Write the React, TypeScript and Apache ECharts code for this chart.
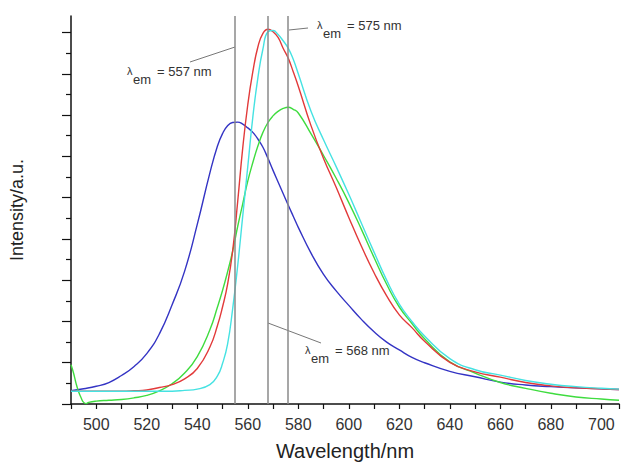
import React, { useEffect, useRef } from "react";
import * as echarts from "echarts";

const wavelengths = [490, 495, 500, 505, 510, 515, 520, 525, 530, 535, 540, 545, 548, 550, 552, 554, 556, 558, 560, 562, 564, 566, 568, 570, 572, 574, 576, 578, 580, 585, 590, 595, 600, 605, 610, 615, 620, 625, 630, 640, 650, 660, 670, 680, 690, 700, 707];

const blueValues = [0.32, 0.37, 0.43, 0.52, 0.69, 0.91, 1.22, 1.7, 2.4, 3.22, 4.35, 5.6, 6.25, 6.55, 6.74, 6.82, 6.83, 6.78, 6.69, 6.58, 6.42, 6.22, 5.95, 5.66, 5.38, 5.1, 4.82, 4.55, 4.28, 3.66, 3.14, 2.74, 2.39, 2.05, 1.75, 1.5, 1.31, 1.13, 1.0, 0.79, 0.66, 0.53, 0.46, 0.42, 0.39, 0.37, 0.35];

const redValues = [0.31, 0.31, 0.31, 0.31, 0.31, 0.32, 0.34, 0.4, 0.47, 0.61, 0.86, 1.38, 1.9, 2.35, 2.9, 3.7, 4.9, 6.2, 7.25, 8.05, 8.65, 8.98, 9.08, 9.02, 8.88, 8.62, 8.38, 8.05, 7.7, 6.75, 5.95, 5.25, 4.52, 3.82, 3.18, 2.62, 2.16, 1.85, 1.52, 1.01, 0.78, 0.65, 0.52, 0.44, 0.39, 0.37, 0.35];

const cyanValues = [0.31, 0.31, 0.31, 0.31, 0.31, 0.31, 0.31, 0.31, 0.31, 0.33, 0.36, 0.47, 0.68, 0.98, 1.45, 2.3, 3.35, 4.55, 5.75, 6.95, 7.9, 8.6, 9.02, 9.05, 8.95, 8.8, 8.62, 8.35, 8.0, 7.1, 6.4, 5.75, 5.08, 4.38, 3.68, 3.0, 2.42, 2.0, 1.65, 1.1, 0.83, 0.7, 0.57, 0.48, 0.42, 0.38, 0.36];

const greenWavelengths = [490, 491, 492, 493, 494, 495, 496, 497, 500, 505, 510, 515, 520, 525, 530, 535, 540, 545, 548, 550, 552, 554, 556, 558, 560, 562, 564, 566, 568, 570, 572, 574, 576, 578, 580, 585, 590, 595, 600, 605, 610, 615, 620, 625, 630, 640, 650, 660, 670, 680, 690, 700, 707];

const greenValues = [0.95, 0.75, 0.5, 0.3, 0.15, 0.04, 0.01, 0.04, 0.07, 0.09, 0.11, 0.15, 0.21, 0.32, 0.49, 0.75, 1.15, 1.8, 2.35, 2.75, 3.2, 3.7, 4.3, 4.85, 5.4, 5.85, 6.25, 6.58, 6.82, 6.98, 7.09, 7.16, 7.19, 7.14, 7.05, 6.55, 6.02, 5.47, 4.88, 4.23, 3.55, 2.9, 2.35, 1.95, 1.58, 1.02, 0.75, 0.52, 0.38, 0.26, 0.17, 0.12, 0.09];

const emissionLines = [555, 568, 576];
const yTickValues = [0, 1, 2, 3, 4, 5, 6, 7, 8, 9];

const FONT = "'Liberation Sans', Arial, Helvetica, sans-serif";

function pairs(xs: number[], ys: number[]) {
  return xs.map((x, i) => [x, ys[i]]);
}

function lambdaLabel(x: number, y: number, value: string, lx1: number, ly1: number, lx2: number, ly2: number) {
  return [
    { type: "line", shape: { x1: lx1, y1: ly1, x2: lx2, y2: ly2 }, style: { stroke: "#777", lineWidth: 1 }, silent: true },
    { type: "text", x: x, y: y, style: { text: "λ", fontSize: 11, fontFamily: FONT, fill: "#333", verticalAlign: "middle" } },
    { type: "text", x: x + 6, y: y + 8, style: { text: "em", fontSize: 13, fontFamily: FONT, fill: "#333", verticalAlign: "middle" } },
    { type: "text", x: x + 30, y: y, style: { text: "= " + value + " nm", fontSize: 13, fontFamily: FONT, fill: "#333", verticalAlign: "middle" } },
  ];
}

export default function App() {
  const ref = useRef<HTMLDivElement>(null);
  useEffect(() => {
    if (!ref.current) return;
    const chart = echarts.init(ref.current, null, { renderer: "svg" });
    const lineSeries = (name: string, data: number[][], color: string) => ({
      name,
      type: "line",
      data,
      showSymbol: false,
      symbol: "none",
      smooth: 0.5,
      lineStyle: { color, width: 1.4 },
      itemStyle: { color },
      silent: true,
    });
    chart.setOption({
      animation: false,
      backgroundColor: "#fff",
      grid: { left: 71, right: 0, top: 16, bottom: 60 },
      xAxis: {
        type: "value",
        min: 490,
        max: 707,
        interval: 10,
        name: "Wavelength/nm",
        nameLocation: "middle",
        nameGap: 37,
        nameTextStyle: { fontSize: 20, fontFamily: FONT, color: "#222" },
        axisLine: { show: true, onZero: false, lineStyle: { color: "#111", width: 1.5 } },
        axisTick: { show: true, length: 5, lineStyle: { color: "#111", width: 1.2 } },
        axisLabel: {
          fontSize: 16,
          fontFamily: FONT,
          color: "#333",
          margin: 12,
          formatter: (v: number) => (v % 20 === 0 ? String(v) : ""),
        },
        splitLine: { show: false },
      },
      yAxis: {
        type: "value",
        min: 0,
        max: 9.4,
        interval: 1,
        name: "Intensity/a.u.",
        nameLocation: "middle",
        nameGap: 45,
        nameTextStyle: { fontSize: 18, fontFamily: FONT, color: "#222" },
        axisLine: { show: true, onZero: false, lineStyle: { color: "#111", width: 1.5 } },
        axisTick: { show: true, length: 9, customValues: yTickValues, lineStyle: { color: "#111", width: 1.2 } },
        minorTick: { show: true, splitNumber: 2, length: 5, lineStyle: { color: "#111", width: 1.2 } },
        axisLabel: { show: false },
        splitLine: { show: false },
      },
      series: [
        {
          ...lineSeries("blue", pairs(wavelengths, blueValues), "#3434c4"),
          markLine: {
            silent: true,
            symbol: ["none", "none"],
            label: { show: false },
            lineStyle: { color: "#8a8a8a", width: 1.5, type: "solid" },
            data: emissionLines.map((x) => ({ xAxis: x })),
          },
        },
        lineSeries("green", pairs(greenWavelengths, greenValues), "#3fdc3f"),
        lineSeries("red", pairs(wavelengths, redValues), "#e23a3a"),
        lineSeries("cyan", pairs(wavelengths, cyanValues), "#45e2e2"),
      ],
      graphic: [
        ...lambdaLabel(127, 71, "557", 190, 62, 235, 47),
        ...lambdaLabel(317, 25, "575", 289, 30, 308, 28),
        ...lambdaLabel(305, 350, "568", 268, 323, 321, 343),
      ],
    });
    return () => chart.dispose();
  }, []);
  return <div ref={ref} style={{ position: "fixed", left: 0, top: 0, width: 622, height: 466, background: "#fff" }} />;
}
